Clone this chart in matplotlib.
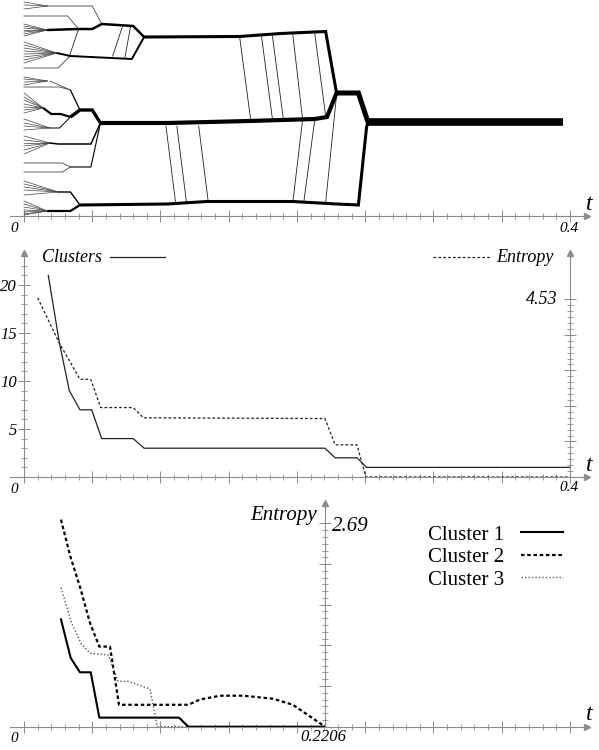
import numpy as np
import matplotlib
matplotlib.use('Agg')
import matplotlib.pyplot as plt

plt.rcParams['font.family'] = ['Liberation Serif', 'DejaVu Serif']

W, H = 599, 750
GREY = '#8c8c8c'
T_LEFT, T_RIGHT = -0.01026, 0.4125

# ---- panel 1: cluster tree over time, pos = vertical position in the drawing ----
# leaf fans: leaves start at t=0 and meet in one point
fan_t = [0.017, 0.017, 0.024, 0.017, 0.014, 0.019, 0.019, 0.025, 0.017]
fan_pos = [210, 186, 163, 135, 108, 88, 73, 24, 5]
fan_leaves = [
    [214, 211, 207],
    [192, 190, 188, 186, 184, 182, 180],
    [174, 171, 168, 165, 162, 159, 156, 153],
    [139, 137, 134, 131],
    [123, 119, 116, 112, 109, 106, 103],
    [97, 93, 90, 86],
    [80, 76, 73, 70, 66, 62],
    [35, 32, 29, 26, 21],
    [15, 12, 9, 6, 4, 2, 1],
]

# thin links
thin_t = [
    [0.017, 0.050, 0.057], [0, 0.032, 0.040], [0, 0.025, 0.033],
    [0.019, 0.034], [0, 0.026, 0.034],
    [0, 0.028, 0.034], [0, 0.028, 0.034],
]
thin_pos = [
    [210, 210, 192], [200, 200, 187], [148, 148, 159],
    [135, 126], [129, 129, 126],
    [53, 53, 49], [44, 44, 49],
]

# branches with a width that grows with the cluster size
branch_t = [
    [0.017, 0.040, 0.050, 0.057, 0.080, 0.088],
    [0.024, 0.034, 0.079, 0.088],
    [0.034, 0.041],
    [0.014, 0.020, 0.027, 0.034],
    [0.019, 0.026, 0.034],
    [0.034, 0.041, 0.050, 0.056],
    [0.019, 0.025, 0.049, 0.056],
    [0.034, 0.049, 0.056],
    [0.025, 0.034, 0.041],
    [0.017, 0.034, 0.041],
    [0.088, 0.158, 0.188, 0.221, 0.229],
    [0.056, 0.105, 0.165, 0.213, 0.222, 0.229],
    [0.041, 0.105, 0.134, 0.197, 0.229, 0.245, 0.251, 0.252],
    [0.229, 0.245, 0.252],
    [0.252, 0.395],
]
branch_pos = [
    [186, 187, 187, 192, 190, 179],
    [163, 160, 157, 179],
    [126, 106],
    [108, 102, 102, 99],
    [88, 88, 99],
    [99, 106, 106, 93],
    [73, 72, 72, 93],
    [49, 49, 93],
    [24, 24, 11],
    [5, 5, 11],
    [179, 179.5, 182.5, 184.5, 123],
    [93, 93, 95, 97, 99, 123],
    [11, 12, 14.5, 14.5, 12, 11, 89, 94],
    [123, 123, 94],
    [94, 94],
]
branch_w = [1.8, 1.4, 0.9, 1.6, 0.7, 2.4, 1.1, 0.8, 1.0, 1.6, 2.2, 3.0, 2.2, 3.6, 5.5]

# members moving between clusters
move_t0 = [0.040, 0.065, 0.074, 0.158, 0.174, 0.182, 0.197, 0.213,
           0.104, 0.112, 0.128, 0.197, 0.205, 0.221]
move_p0 = [187, 160, 159, 179, 180, 180, 181, 183, 90, 90, 90, 14, 14, 13]
move_t1 = [0.033, 0.072, 0.078, 0.166, 0.182, 0.190, 0.204, 0.221,
           0.111, 0.119, 0.135, 0.204, 0.213, 0.229]
move_p1 = [159, 189, 189, 97, 97, 97, 98, 100, 14, 14, 14, 95, 96, 121]

# ---- panel 2: number of clusters and total entropy ----
clusters_t = [0.0178, 0.0259, 0.0332, 0.041, 0.0496, 0.0569, 0.080, 0.088,
              0.2205, 0.228, 0.244, 0.251, 0.4]
clusters_n = [21, 14, 9, 7, 7, 4, 4, 3, 3, 2, 2, 1, 1]
entropy_t = [0.010, 0.0259, 0.041, 0.0489, 0.0562, 0.080, 0.0874, 0.2205,
             0.228, 0.244, 0.2505, 0.4]
entropy_v = [4.57, 3.41, 2.49, 2.49, 1.77, 1.77, 1.51, 1.49, 0.82, 0.82, 0.0, 0.0]
ENTROPY_MAX = 4.53

# ---- panel 3: entropy per cluster ----
c1_t = [0.0271, 0.0342, 0.041, 0.0489, 0.0552, 0.1136, 0.1204, 0.2206]
c1_v = [1.42, 0.91, 0.72, 0.72, 0.12, 0.12, 0.0, 0.0]
c2_t = [0.0271, 0.034, 0.041, 0.0484, 0.0552, 0.063, 0.0696, 0.1204, 0.129,
        0.1436, 0.1607, 0.1826, 0.197, 0.2206]
c2_v = [2.74, 2.25, 1.85, 1.37, 1.06, 1.06, 0.29, 0.29, 0.36, 0.41, 0.41, 0.37,
        0.29, 0.0]
c3_t = [0.0271, 0.0349, 0.0419, 0.0484, 0.0618, 0.069, 0.0764, 0.0923, 0.0977, 0.1204]
c3_v = [1.84, 1.37, 1.10, 0.97, 0.95, 0.60, 0.60, 0.50, 0.0, 0.0]
T_MERGE = 0.2206
CLUSTER_ENTROPY_MAX = 2.69


def px_axes(fig, left, top, right, bottom):
    return fig.add_axes([left / W, 1 - bottom / H, (right - left) / W, (bottom - top) / H])


def time_axis(ax):
    for side in ('top', 'right', 'left'):
        ax.spines[side].set_visible(False)
    ax.spines['bottom'].set_color(GREY)
    ax.spines['bottom'].set_linewidth(0.8)
    ax.set_xlim(T_LEFT, T_RIGHT)
    ax.set_xticks(np.arange(0, 0.4001, 0.05))
    ax.set_xticks(np.arange(0, 0.4001, 0.01), minor=True)
    ax.tick_params(axis='x', which='both', direction='inout', color=GREY, labelbottom=False)
    ax.tick_params(axis='x', which='major', length=8, width=0.7)
    ax.tick_params(axis='x', which='minor', length=4.5, width=0.6)
    ax.plot([T_RIGHT], [ax.get_ylim()[0]], marker='>', ms=5, color=GREY, clip_on=False)
    ax.annotate('t', xy=(1, 0), xycoords='axes fraction', xytext=(-1, 1),
                textcoords='offset points', ha='left', va='bottom',
                fontsize=17, style='italic')
    ax.annotate('0', xy=(0, 0), xycoords=('data', 'axes fraction'), xytext=(-4, -4),
                textcoords='offset points', ha='right', va='top',
                fontsize=11, style='italic')


def value_axis(ax, spine, at, top, major, minor):
    ax.spines[spine].set_visible(True)
    ax.spines[spine].set_position(('data', at))
    ax.spines[spine].set_color(GREY)
    ax.spines[spine].set_linewidth(0.8)
    ax.set_yticks(major)
    ax.set_yticks(minor, minor=True)
    ax.tick_params(axis='y', which='both', direction='inout', color=GREY)
    ax.tick_params(axis='y', which='major', length=8, width=0.7)
    ax.tick_params(axis='y', which='minor', length=4.5, width=0.6)
    ax.plot([at], [top], marker='^', ms=5, color=GREY, clip_on=False)


fig = plt.figure(figsize=(W / 100, H / 100), dpi=100)

# ---- panel 1 ----
ax1 = px_axes(fig, 10, 0, 587, 216)
ax1.set_ylim(0, 216)
time_axis(ax1)
ax1.set_yticks([])
for t, p, leaves in zip(fan_t, fan_pos, fan_leaves):
    for lv in leaves:
        ax1.plot([0, t], [lv, p], color='#444444', lw=0.5)
for ts, ps in zip(thin_t, thin_pos):
    ax1.plot(ts, ps, color='#444444', lw=0.6)
for a, b, c, d in zip(move_t0, move_p0, move_t1, move_p1):
    ax1.plot([a, c], [b, d], color='#222222', lw=0.6)
for ts, ps, w in zip(branch_t, branch_pos, branch_w):
    ax1.plot(ts, ps, color='black', lw=w, solid_capstyle='butt', solid_joinstyle='miter')
ax1.annotate('0.4', xy=(0.4, 0), xycoords='data', xytext=(-1, -4),
             textcoords='offset points', ha='center', va='top', fontsize=11, style='italic')

# ---- panel 2 ----
ax2 = px_axes(fig, 10, 253, 587, 477)
ax2.set_ylim(0, 23.33)
time_axis(ax2)
value_axis(ax2, 'left', 0, 23.33, [5, 10, 15, 20], np.arange(0, 23.5, 1))
ax2.tick_params(axis='y', which='major', labelsize=12, pad=1)
for lbl in ax2.get_yticklabels():
    lbl.set_fontstyle('italic')
ax2.plot(clusters_t, clusters_n, color='#222222', lw=0.9)

ax2r = ax2.twinx()
ax2r.set_ylim(0, 5.71)
for side in ('top', 'left', 'bottom', 'right'):
    ax2r.spines[side].set_visible(False)
value_axis(ax2r, 'right', 0.4, 5.71, np.linspace(0, ENTROPY_MAX, 6),
           np.linspace(0, ENTROPY_MAX, 31))
ax2r.tick_params(axis='y', which='both', labelright=False)
ax2r.plot(entropy_t, entropy_v, color='#222222', lw=0.9, dashes=(2.2, 1.7))
ax2r.annotate('%.2f' % ENTROPY_MAX, xy=(0.4, ENTROPY_MAX), xytext=(-9, 0),
              textcoords='offset points', ha='right', va='center', fontsize=13, style='italic')
ax2.annotate('0.4', xy=(0.4, 0), xycoords='data', xytext=(-1, -3),
             textcoords='offset points', ha='center', va='top', fontsize=11, style='italic')

ax2.text(0.0555, 0.982, 'Clusters', transform=ax2.transAxes, ha='left', va='center',
         fontsize=13, style='italic')
ax2.plot([0.173, 0.269], [0.982, 0.982], transform=ax2.transAxes, color='#222222',
         lw=0.9, clip_on=False)
ax2.plot([0.733, 0.832], [0.982, 0.982], transform=ax2.transAxes, color='#222222',
         lw=0.9, dashes=(2.2, 1.7), clip_on=False)
ax2.text(0.842, 0.982, 'Entropy', transform=ax2.transAxes, ha='left', va='center',
         fontsize=13, style='italic')

# ---- panel 3 ----
ax3 = px_axes(fig, 10, 503, 587, 726.7)
ax3.set_ylim(0, 2.96)
time_axis(ax3)
value_axis(ax3, 'left', T_MERGE, 2.96, np.linspace(0, CLUSTER_ENTROPY_MAX, 6),
           np.linspace(0, CLUSTER_ENTROPY_MAX, 31))
ax3.tick_params(axis='y', which='both', labelleft=False)
ax3.annotate('%.2f' % CLUSTER_ENTROPY_MAX, xy=(T_MERGE, CLUSTER_ENTROPY_MAX), xytext=(5, -2),
             textcoords='offset points', ha='left', va='center', fontsize=15, style='italic')
ax3.annotate('Entropy', xy=(T_MERGE, 2.80), xytext=(-6, 0), textcoords='offset points',
             ha='right', va='center', fontsize=15, style='italic')
ax3.annotate('%.4f' % T_MERGE, xy=(T_MERGE, 0), xytext=(-1, -2),
             textcoords='offset points', ha='center', va='top', fontsize=12, style='italic')

l1, = ax3.plot(c1_t, c1_v, color='black', lw=1.5)
l2, = ax3.plot(c2_t, c2_v, color='black', lw=1.6, dashes=(1.6, 1.2))
l3, = ax3.plot(c3_t, c3_v, color='#555555', lw=1.0, dashes=(1.0, 1.5))
ax3.legend([l1, l2, l3], ['Cluster 1', 'Cluster 2', 'Cluster 3'], loc='upper left',
           bbox_to_anchor=(428 / W, 1 - 525 / H), bbox_transform=fig.transFigure,
           frameon=False, markerfirst=False, fontsize=15, handlelength=2.0,
           handletextpad=0.8, labelspacing=0.14, borderpad=0, borderaxespad=0)

fig.savefig('out.png', dpi=100)
